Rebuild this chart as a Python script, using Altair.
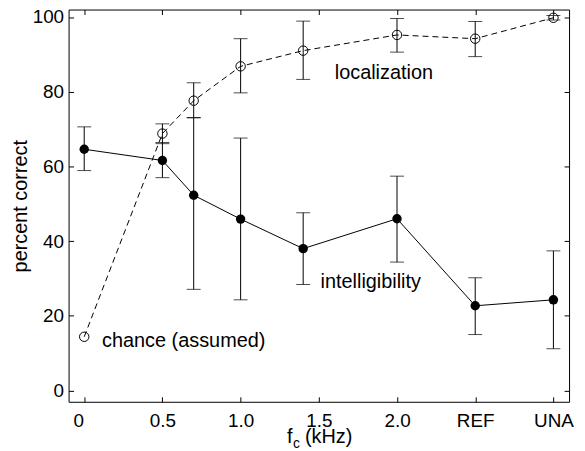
import altair as alt
import pandas as pd

# ---- data ----
freq = [0, 0.5, 0.7, 1.0, 1.4, 2.0, 2.5, 3.0]          # 2.5 = REF, 3.0 = UNA
intel_mean = [64.6, 61.6, 52.3, 45.9, 38.0, 46.0, 22.7, 24.3]
intel_low = [58.9, 57.0, 27.1, 24.3, 28.4, 34.4, 15.0, 11.2]
intel_high = [70.6, 66.4, 73.0, 67.6, 47.6, 57.4, 30.2, 37.4]
loc_mean = [14.4, 68.8, 77.6, 86.8, 91.0, 95.2, 94.2, 99.8]
loc_low = [None, 66.1, 73.1, 79.7, 83.3, 90.6, 89.4, 99.2]
loc_high = [None, 71.4, 82.4, 94.2, 98.9, 99.6, 98.8, 100.4]

x_ticks = [0, 0.5, 1.0, 1.5, 2.0, 2.5, 3.0]
x_tick_labels = ["0", "0.5", "1.0", "1.5", "2.0", "REF", "UNA"]
y_ticks = [0, 20, 40, 60, 80, 100]

ann_text = ["localization", "intelligibility", "chance (assumed)"]
ann_x = [1.602, 1.511, 0.114]
ann_y = [83.3, 27.5, 11.8]

FONT = "Liberation Sans"
FS = 19
FS_TXT = 20

df = pd.DataFrame({"freq": freq, "im": intel_mean, "il": intel_low, "ih": intel_high,
                   "lm": loc_mean, "ll": loc_low, "lh": loc_high})
ann = pd.DataFrame({"t": ann_text, "x": ann_x, "y": ann_y})

label_expr = " : ".join(f"datum.value == {v} ? '{l}'" for v, l in zip(x_ticks, x_tick_labels)) + " : ''"

xs = alt.Scale(domain=[-0.1, 3.1], nice=False, zero=False)
ys = alt.Scale(domain=[-3, 102], nice=False, zero=False)
inward = {"expr": "-5"}

x_main = alt.Axis(orient="bottom", values=x_ticks, labelExpr=label_expr, tickSize=inward, labelPadding=15,
                  title=None, grid=False, domain=False,
                  labelOffset={"condition": {"test": "datum.value == 0", "value": -6}, "value": 0})
y_main = alt.Axis(orient="left", values=y_ticks, tickSize=inward, labelPadding=10, title="percent correct",
                  titleFontSize=FS_TXT, titleFont=FONT, titleFontWeight="normal", titlePadding=2,
                  grid=False, domain=False)
x_mirror = alt.Axis(orient="top", values=x_ticks, labels=False, tickSize=inward,
                    title=None, grid=False, domain=False)
y_mirror = alt.Axis(orient="right", values=y_ticks, labels=False, tickSize=inward,
                    title=None, grid=False, domain=False)

base = alt.Chart(df)

def X(field, axis=None):
    return alt.X(f"{field}:Q", scale=xs, axis=axis)

def Y(field, axis=None):
    return alt.Y(f"{field}:Q", scale=ys, axis=axis)

# axis carriers (invisible)
ax_main = base.mark_point(opacity=0).encode(x=X("freq", x_main), y=Y("im", y_main))
ax_mirror = base.mark_point(opacity=0).encode(x=X("freq", x_mirror), y=Y("im", y_mirror))

# intelligibility
i_rule = base.mark_rule(color="black", strokeWidth=1).encode(x=X("freq"), y=Y("il"), y2="ih:Q")
i_cap_lo = base.mark_tick(orient="horizontal", size=14, thickness=1, color="black").encode(x=X("freq"), y=Y("il"))
i_cap_hi = base.mark_tick(orient="horizontal", size=14, thickness=1, color="black").encode(x=X("freq"), y=Y("ih"))
i_line = base.mark_line(color="black", strokeWidth=1).encode(x=X("freq"), y=Y("im"))
i_pts = base.mark_circle(color="black", size=90, opacity=1).encode(x=X("freq"), y=Y("im"))

# localization
lb = base.transform_filter("datum.ll != null")
l_rule = lb.mark_rule(color="black", strokeWidth=1).encode(x=X("freq"), y=Y("ll"), y2="lh:Q")
l_cap_lo = lb.mark_tick(orient="horizontal", size=14, thickness=1, color="black").encode(x=X("freq"), y=Y("ll"))
l_cap_hi = lb.mark_tick(orient="horizontal", size=14, thickness=1, color="black").encode(x=X("freq"), y=Y("lh"))
l_line = base.mark_line(color="black", strokeWidth=1, strokeDash=[6, 4]).encode(x=X("freq"), y=Y("lm"))
l_pts = base.mark_point(shape="circle", filled=False, color="black", strokeWidth=1, size=90, opacity=1).encode(
    x=X("freq"), y=Y("lm"))

# annotations
texts = alt.Chart(ann).mark_text(font=FONT, fontSize=FS_TXT, align="left", baseline="alphabetic", color="black").encode(
    x=X("x"), y=Y("y"), text="t:N")

one = alt.Data(values=[{"a": 1}])
t_f = alt.Chart(one).mark_text(text="f", font=FONT, fontSize=FS_TXT, align="left", baseline="alphabetic", color="black").encode(
    x=alt.value(220), y=alt.value(437))
t_c = alt.Chart(one).mark_text(text="c", font=FONT, fontSize=14, align="left", baseline="alphabetic", color="black").encode(
    x=alt.value(226), y=alt.value(442))
t_k = alt.Chart(one).mark_text(text="(kHz)", font=FONT, fontSize=FS_TXT, align="left", baseline="alphabetic", color="black").encode(
    x=alt.value(238), y=alt.value(437))

chart = alt.layer(
    ax_main, ax_mirror,
    i_rule, i_cap_lo, i_cap_hi, l_rule, l_cap_lo, l_cap_hi, i_line, l_line, i_pts, l_pts, texts, t_f, t_c, t_k
).resolve_axis(x="independent", y="independent").properties(
    width=504, height=395,
    autosize=alt.AutoSizeParams(type="none"),
    padding={"left": 61, "top": 0, "right": 8, "bottom": 48},
).configure_view(stroke="black", strokeWidth=1).configure_axis(
    labelFont=FONT, labelFontSize=FS, labelColor="black", tickColor="black", tickWidth=1,
    titleColor="black",
)

chart.save("out.html", embed_options={"renderer": "svg", "actions": False})
